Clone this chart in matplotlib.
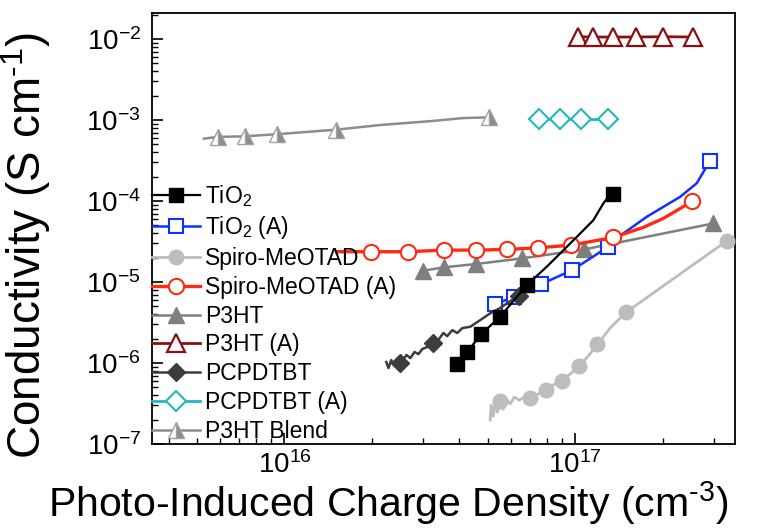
import matplotlib
matplotlib.use('Agg')
import matplotlib.pyplot as plt

plt.rcParams['font.family'] = ['Liberation Sans', 'DejaVu Sans']
plt.rcParams['mathtext.fontset'] = 'custom'
plt.rcParams['mathtext.rm'] = 'Liberation Sans'
plt.rcParams['mathtext.it'] = 'Liberation Sans'
plt.rcParams['mathtext.default'] = 'regular'
plt.rcParams['axes.unicode_minus'] = False

# data (x: charge density in cm^-3, y: conductivity in S/cm)
tio2_x = [3.92e16, 4.25e16, 4.74e16, 5.52e16, 6.82e16, 7.99e16, 9.12e16, 1.014e17,
          1.156e17, 1.251e17, 1.301e17, 1.354e17]
tio2_y = [9.7e-7, 1.36e-6, 2.26e-6, 3.73e-6, 9.18e-6, 1.55e-5, 2.48e-5, 3.62e-5,
          5.82e-5, 9.37e-5, 1.13e-4, 1.24e-4]
tio2_mk = [0, 1, 2, 3, 4, 11]

tio2a_x = [5.31e16, 6.14e16, 7.62e16, 9.79e16, 1.301e17, 1.466e17, 1.764e17, 2.30e17,
           2.62e17, 2.91e17]
tio2a_y = [5.31e-6, 6.59e-6, 9.37e-6, 1.41e-5, 2.73e-5, 3.99e-5, 6.4e-5, 1.13e-4,
           1.66e-4, 3.12e-4]
tio2a_mk = [0, 1, 2, 3, 4, 9]

spiro_x = [5.10e16, 5.14e16, 5.23e16, 5.31e16, 5.40e16, 5.52e16, 5.66e16, 5.79e16,
           5.98e16, 6.17e16, 6.42e16, 6.68e16, 7.00e16, 7.46e16, 7.95e16, 8.40e16,
           9.00e16, 9.61e16, 1.035e17, 1.109e17, 1.193e17, 1.319e17, 1.497e17, 3.32e17]
spiro_y = [1.98e-7, 3.03e-7, 2.22e-7, 3.30e-7, 2.48e-7, 3.40e-7, 2.70e-7, 3.60e-7,
           3.12e-7, 3.80e-7, 3.49e-7, 3.80e-7, 3.73e-7, 4.14e-7, 4.64e-7, 5.35e-7,
           6.04e-7, 7.31e-7, 9.27e-7, 1.22e-6, 1.70e-6, 2.70e-6, 4.23e-6, 3.21e-5]
spiro_mk = [5, 12, 14, 16, 18, 20, 22, 23]

spiroa_x = [1.51e16, 1.99e16, 2.66e16, 3.53e16, 4.56e16, 5.85e16, 7.48e16, 9.71e16,
            1.354e17, 1.717e17, 2.01e17, 2.30e17, 2.53e17]
spiroa_y = [2.37e-5, 2.37e-5, 2.37e-5, 2.48e-5, 2.48e-5, 2.53e-5, 2.65e-5, 2.86e-5,
            3.56e-5, 4.73e-5, 6.1e-5, 8.1e-5, 1.0e-4]
spiroa_mk = [1, 2, 3, 4, 5, 6, 7, 8, 12]

p3ht_x = [3.0e16, 3.53e16, 4.56e16, 6.56e16, 1.074e17, 2.99e17]
p3ht_y = [1.38e-5, 1.52e-5, 1.67e-5, 1.96e-5, 2.53e-5, 5.3e-5]

p3hta_x = [1.026e17, 1.156e17, 1.354e17, 1.617e17, 2.01e17, 2.54e17]
p3hta_y = [1.07e-2, 1.06e-2, 1.06e-2, 1.06e-2, 1.07e-2, 1.06e-2]

pcp_x = [2.24e16, 2.28e16, 2.33e16, 2.39e16, 2.45e16, 2.50e16, 2.54e16, 2.63e16,
         2.71e16, 2.80e16, 2.89e16, 2.98e16, 3.10e16, 3.24e16, 3.38e16, 3.52e16,
         3.63e16, 3.78e16, 3.93e16, 4.09e16, 4.36e16, 4.72e16, 5.10e16, 5.52e16,
         5.98e16, 6.39e16, 6.68e16]
pcp_y = [1.03e-6, 8.67e-7, 1.09e-6, 9.18e-7, 1.15e-6, 1.0e-6, 1.06e-6, 1.26e-6,
         1.15e-6, 1.37e-6, 1.29e-6, 1.49e-6, 1.58e-6, 1.75e-6, 1.92e-6, 2.35e-6,
         2.15e-6, 2.55e-6, 2.35e-6, 2.70e-6, 2.81e-6, 3.40e-6, 4.11e-6, 4.78e-6,
         5.82e-6, 6.77e-6, 7.74e-6]
pcp_mk = [5, 13, 25]

pcpa_x = [7.54e16, 8.88e16, 1.048e17, 1.295e17]
pcpa_y = [1.02e-3, 1.02e-3, 1.02e-3, 1.02e-3]

blend_x = [5.28e15, 5.9e15, 7.3e15, 9.44e15, 1.5e16, 2.14e16, 3.18e16, 4.13e16, 5.04e16]
blend_y = [5.9e-4, 6.2e-4, 6.3e-4, 6.7e-4, 7.6e-4, 8.7e-4, 9.7e-4, 1.06e-3, 1.08e-3]
blend_mk = [1, 2, 3, 4, 8]

fig = plt.figure(figsize=(7.77, 5.28), dpi=100)
ax = fig.add_axes([0.1956, 0.159, 0.7504, 0.8164])

ax.plot(tio2_x, tio2_y, '-s', color='black', lw=1.6, ms=9.5, markevery=tio2_mk,
        label='TiO$_2$', zorder=6)
ax.plot(tio2a_x, tio2a_y, '-s', color='#1030ff', lw=1.8, ms=10, mfc='white', mew=1.5,
        markevery=tio2a_mk, label='TiO$_2$ (A)', zorder=4)
ax.plot(spiro_x, spiro_y, '-o', color='#bdbdbd', lw=2, ms=10.5, markevery=spiro_mk,
        label='Spiro-MeOTAD', zorder=3)
ax.plot(spiroa_x, spiroa_y, '-o', color='#ff2a10', lw=2.4, ms=11, mfc='white', mew=1.5,
        markevery=spiroa_mk, label='Spiro-MeOTAD (A)', zorder=5)
ax.plot(p3ht_x, p3ht_y, '-^', color='#7f7f7f', lw=1.8, ms=11.5, label='P3HT', zorder=3)
ax.plot(p3hta_x, p3hta_y, '-^', color='#8b1010', lw=2, ms=12.5, mfc='white', mew=1.6,
        label='P3HT (A)', zorder=3)
ax.plot(pcp_x, pcp_y, '-D', color='#3c3c3c', lw=1.8, ms=9, markevery=pcp_mk,
        label='PCPDTBT', zorder=4)
ax.plot(pcpa_x, pcpa_y, '-D', color='#20b8c0', lw=2, ms=10, mfc='white', mew=1.5,
        label='PCPDTBT (A)', zorder=3)
ax.plot(blend_x, blend_y, '-^', color='#8c8c8c', lw=1.8, ms=11.5, fillstyle='right',
        mfcalt='white', mec='#a0a0a0', markevery=blend_mk, label='P3HT Blend', zorder=3)

ax.set_xscale('log')
ax.set_yscale('log')
ax.set_xlim(3.5e15, 3.55e17)
ax.set_ylim(1e-7, 2.1e-2)

ax.tick_params(which='both', direction='in', top=False, right=False, labelsize=20)
ax.tick_params(which='major', length=8, width=1.2, pad=8)
ax.tick_params(axis='x', which='major', pad=5)
ax.tick_params(which='minor', length=4.5, width=1)
for s in ax.spines.values():
    s.set_linewidth(1.3)

ax.set_xlabel(r'Photo-Induced Charge Density (cm$^{\text{-}3}$)', fontsize=29.5,
              va='bottom')
ax.set_ylabel(r'Conductivity (S cm$^{\text{-}1}$)', fontsize=33)
ax.xaxis.set_label_coords(0.405, -0.192)
ax.yaxis.set_label_coords(-0.17, 0.46)

ax.legend(loc='upper left', bbox_to_anchor=(0, 0.606), frameon=False, fontsize=16.5,
          numpoints=1, handlelength=2.1, handletextpad=0.2, labelspacing=0.25,
          borderaxespad=0, borderpad=0)

plt.savefig('out.png', dpi=100)
